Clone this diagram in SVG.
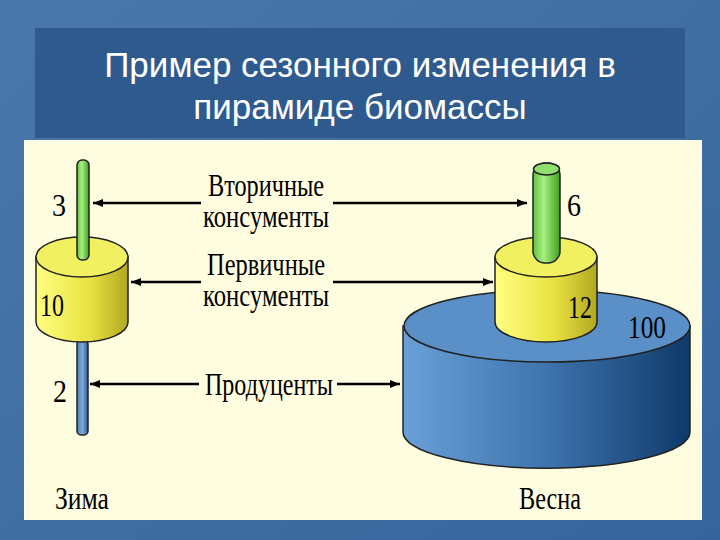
<svg xmlns="http://www.w3.org/2000/svg" width="720" height="540" viewBox="0 0 720 540">
<defs>
<linearGradient id="bg" x1="0" y1="0" x2="1" y2="1"><stop offset="0" stop-color="#4a78ab"/><stop offset="1" stop-color="#36659c"/></linearGradient>
<linearGradient id="yel" x1="0" x2="1"><stop offset="0" stop-color="#ffff80"/><stop offset="0.6" stop-color="#e8e040"/><stop offset="1" stop-color="#b0a820"/></linearGradient>
<linearGradient id="blu" x1="0" x2="1"><stop offset="0" stop-color="#6aa0d8"/><stop offset="0.5" stop-color="#3f74ae"/><stop offset="1" stop-color="#0e3a6a"/></linearGradient>
<linearGradient id="grn" x1="0" x2="1"><stop offset="0" stop-color="#60c040"/><stop offset="0.4" stop-color="#a8f080"/><stop offset="1" stop-color="#40a020"/></linearGradient>
<linearGradient id="brod" x1="0" x2="1"><stop offset="0" stop-color="#5080b8"/><stop offset="0.5" stop-color="#80a8d8"/><stop offset="1" stop-color="#2a5a90"/></linearGradient>
<marker id="ah" viewBox="0 0 10 8" refX="10" refY="4" markerWidth="10" markerHeight="8" markerUnits="userSpaceOnUse" orient="auto"><path d="M0,0 L10,4 L0,8 Z" fill="#000"/></marker>
</defs>
<style>
.t{font-family:"Liberation Serif","DejaVu Serif",serif;font-size:31px;fill:#000}
.c{text-anchor:middle}
.ln{stroke:#000;stroke-width:2.5;fill:none;marker-end:url(#ah)}
.o{stroke:#222;stroke-width:1.5}
</style>
<rect width="720" height="540" fill="url(#bg)"/>
<rect x="35" y="28" width="650" height="110" fill="#2f5a8e"/>
<g id="title" font-family="'Liberation Sans',Arial,sans-serif" font-size="35" fill="#fff" text-anchor="middle">
<text x="360" y="77">Пример сезонного изменения в</text>
<text x="360" y="119">пирамиде биомассы</text>
</g>
<rect x="24" y="140" width="678" height="380" fill="#fffde0"/>
<g id="winter">
<rect x="77" y="340" width="11" height="95" rx="4" fill="url(#brod)" class="o"/>
<path d="M36,257 L36,322 A46,20 0 0 0 128,322 L128,257 Z" fill="url(#yel)" class="o"/>
<ellipse cx="82" cy="257" rx="46" ry="20" fill="#f0f060" class="o"/>
<rect x="77" y="160" width="12" height="100" rx="5" fill="url(#grn)" class="o"/>
<text class="t" x="52" y="216" textLength="14" lengthAdjust="spacingAndGlyphs">3</text>
<text class="t" x="40" y="316" textLength="24" lengthAdjust="spacingAndGlyphs">10</text>
<text class="t" x="53" y="402" textLength="14" lengthAdjust="spacingAndGlyphs">2</text>
<text class="t" x="55" y="509" textLength="54" lengthAdjust="spacingAndGlyphs">Зима</text>
</g>
<g id="spring">
<path d="M403,326 L403,432 A143,36 0 0 0 690,432 L690,326 Z" fill="url(#blu)" class="o"/>
<ellipse cx="547" cy="326" rx="143" ry="36" fill="#5a8fc8" class="o"/>
<path d="M495,257 L495,322 A51,20 0 0 0 597,322 L597,257 Z" fill="url(#yel)" class="o"/>
<ellipse cx="546" cy="257" rx="51" ry="20" fill="#f0f060" class="o"/>
<rect x="533" y="163" width="27" height="100" rx="12" fill="url(#grn)" class="o"/>
<ellipse cx="546.5" cy="169" rx="13" ry="6" fill="#90e070" class="o"/>
<text class="t" x="567" y="216" textLength="14" lengthAdjust="spacingAndGlyphs">6</text>
<text class="t" x="568" y="318" textLength="24" lengthAdjust="spacingAndGlyphs">12</text>
<text class="t" x="628" y="338" textLength="38" lengthAdjust="spacingAndGlyphs">100</text>
<text class="t c" x="550" y="509" textLength="62" lengthAdjust="spacingAndGlyphs">Весна</text>
</g>
<g id="labels">
<text class="t c" x="266" y="196" textLength="116" lengthAdjust="spacingAndGlyphs">Вторичные</text>
<text class="t c" x="266" y="227" textLength="126" lengthAdjust="spacingAndGlyphs">консументы</text>
<text class="t c" x="266" y="275" textLength="118" lengthAdjust="spacingAndGlyphs">Первичные</text>
<text class="t c" x="266" y="306" textLength="126" lengthAdjust="spacingAndGlyphs">консументы</text>
<text class="t c" x="269" y="395" textLength="128" lengthAdjust="spacingAndGlyphs">Продуценты</text>
</g>
<g id="connectors">
<line class="ln" x1="201" y1="203" x2="93" y2="203"/>
<line class="ln" x1="333" y1="203" x2="527" y2="203"/>
<line class="ln" x1="201" y1="282" x2="131" y2="282"/>
<line class="ln" x1="333" y1="282" x2="493" y2="282"/>
<line class="ln" x1="199" y1="384" x2="90" y2="384"/>
<line class="ln" x1="337" y1="384" x2="400" y2="384"/>
</g>
</svg>
